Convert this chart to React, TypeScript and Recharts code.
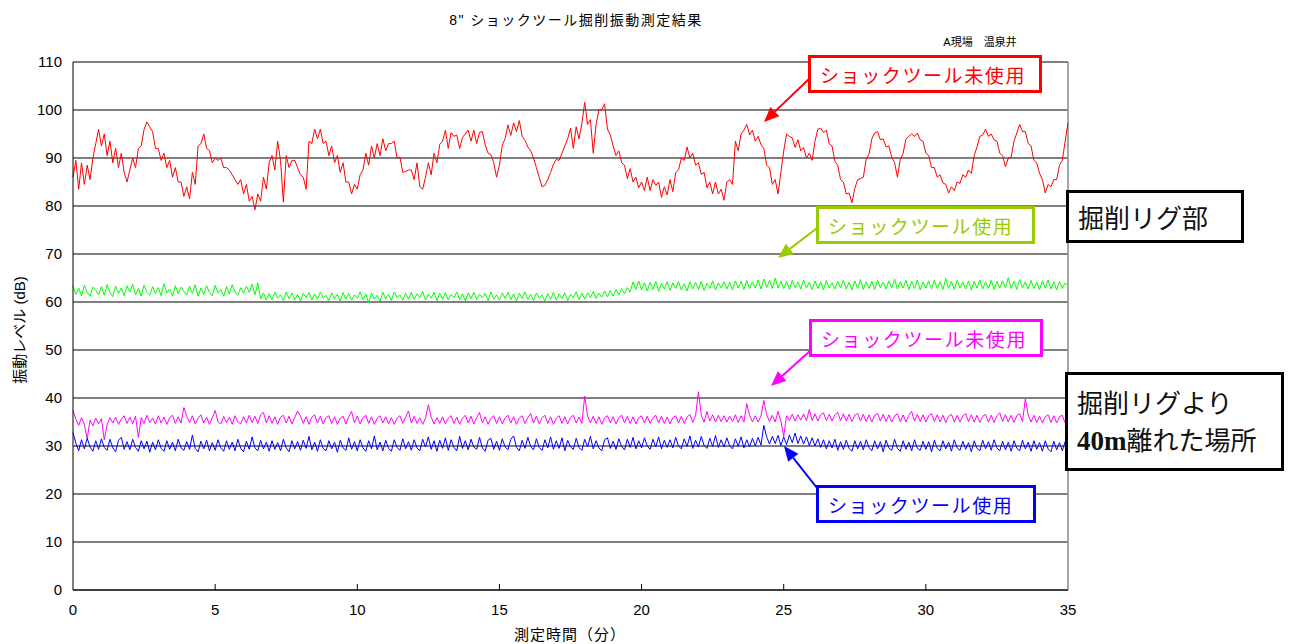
import React from "react";
import { LineChart, Line, XAxis, YAxis, CartesianGrid, ReferenceLine } from "recharts";

// time in minutes (0.1 min step, 0..35)
const times: number[] = Array.from({ length: 351 }, (_, i) => i / 10);

const xTicks = [0, 5, 10, 15, 20, 25, 30, 35];
const yTicks = [0, 10, 20, 30, 40, 50, 60, 70, 80, 90, 100, 110];

// 掘削リグ部 ショックツール未使用 (red)
const rigNoTool: number[] = [
  86, 89.5, 83.5, 89, 84.5, 88.5, 85.5, 90, 93, 96,
  92.5, 95, 90.5, 93.5, 89, 92, 88, 91, 87, 85,
  87.5, 90, 88, 92, 92.5, 96, 97.5, 96.5, 95.5, 92,
  92, 89.5, 91, 88, 89.5, 86, 88, 85, 85, 82,
  84, 81.5, 87, 84.5, 92.5, 93, 95, 92, 91.5, 89,
  90, 89.5, 90, 88, 88, 87.5, 86.5, 85.5, 84.5, 85.5,
  82.5, 84.5, 81, 82, 79.2, 82.5, 81, 86, 83.5, 89,
  90.5, 87.5, 93.5, 89.5, 80.8, 90.5, 88, 89.5, 89.5, 88,
  86.5, 86, 83.5, 93.5, 93, 96, 94, 96, 93, 93.5,
  90.5, 92.5, 89, 90.5, 87, 89, 85, 85, 82.5, 84.5,
  83.5, 86.5, 87.5, 91, 88.5, 92.5, 90, 93, 90.5, 94,
  91.5, 93, 93, 93.5, 90, 90.2, 87, 87.2, 87.5, 87.5,
  85.5, 89, 84, 83.5, 86, 89, 86.5, 91, 89, 92.8,
  93.5, 95.8, 92, 95.3, 94.5, 94.8, 92, 94.3, 95, 95.8,
  93.5, 95.8, 93, 95.3, 95.5, 92.7, 91, 90.7, 89, 86,
  88.5, 92.7, 94, 96.9, 94.7, 97.3, 95.5, 97.8, 94.5, 93.7,
  92.3, 91.5, 90, 88, 86, 84, 84.3, 85.5, 87, 88.7,
  89.7, 89.5, 91, 92.5, 94, 96.2, 92, 96.5, 94, 97.2,
  101.6, 97, 98, 91, 97, 100, 100, 101.3, 96, 94.8,
  92.5, 90.5, 91.5, 89, 88.5, 85.7, 87.8, 85, 86, 83.8,
  85, 83.2, 86, 83.2, 85.5, 84.3, 85, 81.8, 84, 82.3,
  85.5, 83, 87, 87.5, 90, 89.5, 92.3, 90, 91, 88.5,
  89, 86.6, 87, 83.8, 85, 82.5, 85, 82.5, 83.5, 81.2,
  85, 85.5, 84.5, 93.5, 91.5, 95, 95.8, 97, 94.8, 95.8,
  93.5, 94.5, 92.8, 92, 88.5, 88, 84.5, 85.5, 82.5, 87,
  91.5, 95, 94.5, 94.2, 92.2, 93.8, 91.5, 92.2, 90, 91,
  89.5, 93.5, 96, 96.2, 95.3, 95.8, 93, 92.5, 89.3, 88.5,
  85.5, 85, 82.5, 82.7, 80.7, 83.7, 85.5, 85.7, 86, 89.7,
  90.8, 94, 95.2, 95.5, 93.8, 94, 92.3, 92.5, 90.2, 89,
  86, 89.7, 91, 94, 94.5, 95, 94.5, 95.2, 93.8, 93.5,
  91, 90.5, 88, 88, 86, 86.5, 84.8, 84.5, 82.7, 84,
  83.2, 85, 84.7, 86.5, 86, 87.5, 86.8, 90.5, 92.3, 94.5,
  94.8, 96, 94.5, 95, 93.8, 93.5, 91, 90.5, 88.2, 90,
  90.2, 93.5, 95.2, 97, 95.5, 95.5, 93, 92.5, 89.5, 89,
  86.8, 85.5, 82.7, 84.5, 84, 85.5, 85.5, 88.5, 89.5, 93.5,
  97.4,
];

// 掘削リグ部 ショックツール使用 (green)
const rigWithTool: number[] = [
  63.4, 61.6, 62.9, 61.3, 63.5, 62.0, 61.2, 63.1, 62.4, 61.5,
  63.2, 61.4, 63.6, 62.0, 61.1, 63.3, 61.8, 62.9, 61.3, 63.4,
  62.1, 63.7, 61.5, 62.8, 61.2, 63.5, 62.0, 61.4, 63.2, 61.8,
  63.0, 61.3, 63.8, 61.9, 62.7, 61.2, 63.4, 61.7, 63.1, 62.2,
  61.4, 63.3, 61.8, 63.6, 61.2, 62.9, 61.6, 63.4, 62.0, 61.3,
  63.5, 61.9, 62.6, 61.2, 63.2, 61.7, 63.6, 62.1, 61.4, 63.0,
  61.8, 63.3, 62.0, 63.7, 61.5, 63.9, 60.6, 61.9, 60.4, 61.8,
  60.5, 62.0, 60.8, 61.5, 60.3, 62.1, 60.7, 61.9, 60.5, 61.6,
  60.2, 61.8, 60.9, 62.0, 60.4, 61.7, 60.6, 62.1, 60.8, 61.4,
  60.3, 61.9, 60.7, 61.6, 60.1, 62.0, 60.6, 61.8, 60.4, 61.5,
  60.8, 62.1, 60.5, 61.7, 59.8, 61.9, 60.6, 61.4, 60.2, 62.0,
  60.7, 61.6, 60.3, 62.1, 60.9, 61.5, 60.4, 61.8, 60.6, 62.0,
  60.5, 61.7, 60.9, 62.2, 60.4, 61.6, 60.8, 62.0, 60.3, 61.8,
  60.6, 61.9, 60.4, 61.6, 60.9, 62.1, 60.5, 61.7, 60.2, 61.9,
  60.7, 62.0, 60.5, 61.6, 60.9, 61.8, 60.3, 62.1, 60.6, 61.5,
  60.4, 61.9, 60.8, 62.0, 60.5, 61.7, 60.2, 61.8, 60.7, 62.1,
  60.5, 61.6, 60.3, 61.9, 60.8, 61.5, 60.1, 61.8, 60.6, 62.0,
  60.4, 61.7, 60.7, 61.9, 60.3, 61.6, 60.9, 62.1, 60.5, 61.8,
  60.6, 61.9, 60.9, 62.2, 60.7, 61.8, 61.0, 62.3, 61.1, 62.4,
  61.2, 62.6, 61.5, 62.8, 61.7, 63.0, 62.1, 64.2, 62.6, 64.4,
  62.5, 64.0, 62.3, 64.1, 62.6, 64.3, 62.2, 63.9, 62.7, 64.2,
  62.4, 64.0, 62.8, 64.3, 62.5, 63.8, 62.3, 64.2, 62.7, 64.1,
  62.6, 64.3, 62.4, 63.9, 62.8, 64.4, 62.5, 64.0, 62.9, 64.2,
  62.7, 64.1, 62.5, 64.4, 62.9, 64.3, 62.6, 64.5, 62.8, 64.2,
  62.9, 64.6, 62.7, 64.8, 63.0, 64.5, 62.8, 65.0, 62.9, 64.4,
  62.8, 64.3, 62.6, 64.5, 63.0, 64.2, 62.7, 64.6, 62.9, 64.1,
  62.6, 64.4, 62.8, 64.2, 62.5, 64.5, 62.9, 64.0, 62.7, 64.3,
  62.9, 64.6, 62.7, 64.1, 62.5, 64.4, 62.8, 64.7, 62.6, 64.2,
  62.8, 64.3, 62.6, 64.5, 63.0, 64.1, 62.7, 64.4, 62.9, 64.8,
  62.7, 64.2, 62.9, 64.5, 62.6, 64.3, 62.8, 64.6, 62.5, 64.1,
  62.9, 64.4, 62.7, 64.6, 62.8, 64.2, 62.6, 64.9, 62.8, 64.3,
  62.6, 64.5, 62.9, 64.1, 62.7, 64.4, 62.5, 64.3, 62.9, 64.6,
  62.7, 64.2, 62.8, 64.5, 62.6, 64.3, 62.9, 64.4, 63.0, 65.1,
  62.8, 64.3, 62.6, 64.7, 62.9, 64.2, 62.7, 64.5, 62.8, 64.1,
  62.6, 64.4, 62.9, 64.6, 62.7, 64.2, 62.5, 64.3, 62.8, 64.0,
  63.4,
];

// 40m離れた場所 ショックツール未使用 (magenta)
const farNoTool: number[] = [
  37.4, 35.6, 34.3, 35.9, 34.5, 31.5, 35.4, 34.2, 35.8, 34.6,
  35.7, 31.3, 34.4, 35.9, 34.8, 36.0, 34.5, 35.6, 36.3, 34.7,
  36.0, 34.6, 36.2, 31.8, 35.9, 34.7, 36.4, 34.9, 35.8, 34.6,
  36.3, 34.8, 36.0, 34.5, 35.9, 36.4, 34.7, 36.1, 34.8, 38.0,
  36.2, 34.9, 36.3, 34.6, 35.8, 36.5, 34.8, 36.0, 34.5, 35.9,
  37.4, 35.0, 34.6, 36.2, 34.9, 36.0, 34.5, 36.3, 35.0, 34.6,
  36.1, 34.8, 36.4, 34.9, 36.2, 34.7, 36.5, 37.0, 34.8, 36.3,
  34.7, 36.1, 34.5, 36.0, 36.4, 34.8, 36.2, 34.6, 35.9, 37.3,
  36.2, 34.7, 36.1, 34.5, 36.0, 36.5, 34.8, 36.2, 34.6, 35.9,
  36.3, 34.7, 36.1, 34.5, 35.8, 36.2, 34.6, 36.1, 37.2, 34.8,
  36.2, 34.6, 35.9, 36.4, 34.7, 36.1, 34.5, 35.8, 36.3, 34.8,
  36.1, 34.6, 35.9, 34.5, 35.8, 36.3, 34.7, 36.0, 37.3, 34.8,
  36.2, 34.7, 35.9, 34.5, 35.8, 38.6, 36.0, 34.6, 35.9, 34.7,
  36.1, 34.6, 35.8, 36.3, 34.7, 36.0, 34.5, 35.8, 36.4, 34.8,
  36.2, 34.6, 35.9, 37.0, 34.8, 36.1, 34.5, 35.8, 36.3, 34.7,
  36.1, 34.6, 35.9, 36.4, 34.8, 36.1, 34.5, 35.8, 36.3, 34.7,
  35.9, 36.8, 34.8, 36.2, 34.6, 35.9, 36.4, 34.7, 36.1, 34.5,
  35.8, 36.3, 34.7, 36.1, 34.6, 35.9, 36.4, 34.8, 36.0, 34.7,
  40.4, 36.3, 34.8, 36.2, 34.7, 36.1, 34.5, 35.9, 36.3, 34.8,
  36.1, 34.6, 35.9, 36.4, 34.8, 36.2, 34.7, 36.1, 34.6, 35.9,
  36.3, 34.8, 36.2, 34.7, 35.9, 36.4, 34.8, 36.2, 34.7, 36.0,
  34.6, 35.9, 36.3, 34.8, 36.2, 34.7, 36.0, 36.6, 34.9, 36.3,
  41.3, 36.4, 35.0, 37.2, 35.2, 36.5, 35.0, 36.4, 35.1, 36.3,
  35.0, 36.2, 35.1, 36.5, 34.9, 36.3, 35.0, 38.8, 36.4, 35.0,
  36.3, 35.0, 36.2, 39.5, 36.5, 35.1, 36.4, 35.0, 37.2, 35.2,
  32.0, 36.3, 35.3, 36.6, 35.2, 36.5, 35.4, 36.7, 35.3, 37.6,
  35.3, 36.7, 35.2, 36.5, 36.9, 35.3, 36.6, 35.2, 36.5, 37.0,
  35.3, 36.7, 35.2, 36.6, 35.1, 36.4, 36.8, 35.2, 36.6, 35.1,
  36.5, 35.0, 36.4, 36.8, 35.2, 36.6, 35.1, 36.5, 35.0, 36.3,
  36.7, 35.1, 36.5, 35.0, 36.4, 37.2, 35.2, 36.6, 35.1, 36.5,
  35.0, 36.3, 36.7, 35.1, 36.5, 35.0, 36.4, 34.9, 36.2, 36.6,
  35.0, 36.4, 35.0, 36.3, 36.7, 35.1, 36.5, 35.0, 36.4, 34.9,
  36.2, 36.6, 35.0, 36.4, 34.9, 36.3, 36.9, 35.1, 36.5, 35.0,
  36.4, 34.9, 36.3, 36.7, 35.1, 39.8, 36.5, 35.0, 36.4, 34.9,
  36.2, 34.8, 36.1, 36.5, 34.9, 36.3, 34.8, 36.1, 36.4, 34.8,
  37.6,
];

// 40m離れた場所 ショックツール使用 (blue)
const farWithTool: number[] = [
  32.8, 30.6, 29.0, 31.3, 29.4, 31.6, 29.8, 28.9, 31.1, 29.3,
  31.5, 29.7, 29.1, 31.4, 29.6, 28.8, 31.2, 31.8, 29.3, 30.9,
  29.2, 31.4, 29.7, 28.9, 31.1, 29.4, 31.0, 28.7, 30.8, 29.2,
  31.3, 29.5, 28.9, 31.1, 29.3, 30.8, 29.0, 31.4, 29.6, 29.1,
  30.9, 29.3, 32.3, 29.5, 28.8, 31.0, 29.4, 31.2, 29.0, 30.7,
  29.1, 31.3, 29.6, 28.9, 31.1, 29.3, 30.8, 29.0, 31.4, 29.5,
  28.8, 31.0, 29.3, 31.9, 29.6, 29.0, 31.2, 29.4, 30.8, 28.9,
  31.1, 29.3, 30.7, 29.0, 31.4, 29.6, 28.8, 31.1, 29.4, 30.9,
  29.1, 31.2, 29.5, 32.0, 29.2, 30.8, 28.9, 31.3, 29.5, 29.0,
  31.1, 29.4, 30.8, 28.7, 31.2, 29.6, 29.1, 31.7, 29.3, 30.9,
  29.0, 31.3, 29.6, 28.9, 31.1, 29.4, 32.1, 29.2, 30.8, 29.0,
  31.2, 29.5, 28.9, 31.3, 29.7, 29.1, 31.5, 29.4, 30.9, 29.1,
  31.3, 29.6, 29.0, 31.4, 29.8, 31.9, 29.3, 31.1, 28.9, 31.2,
  29.5, 31.7, 29.1, 31.3, 29.7, 29.0, 32.0, 29.5, 31.1, 29.2,
  31.4, 29.8, 29.3, 31.8, 29.6, 28.9, 31.2, 31.6, 29.3, 31.0,
  29.1, 31.5, 29.8, 29.2, 31.4, 32.1, 29.7, 29.0, 31.2, 29.5,
  31.8, 29.9, 29.2, 31.5, 29.7, 29.1, 31.3, 29.6, 31.9, 29.3,
  31.1, 29.5, 31.7, 29.0, 31.2, 29.8, 29.3, 31.6, 29.7, 29.1,
  31.4, 29.8, 32.0, 29.4, 31.1, 29.6, 29.0, 31.3, 31.7, 29.5,
  31.0, 29.3, 31.5, 29.9, 29.2, 31.4, 29.7, 31.8, 29.4, 31.1,
  29.6, 31.7, 30.0, 29.3, 31.4, 29.8, 31.9, 29.4, 31.2, 29.7,
  31.3, 29.6, 31.8, 30.0, 29.4, 31.5, 29.9, 32.1, 29.5, 31.2,
  29.8, 32.0, 30.1, 29.5, 31.6, 29.9, 32.2, 29.7, 31.3, 29.8,
  31.7, 30.0, 29.4, 31.5, 29.9, 31.9, 29.6, 31.3, 29.8, 31.6,
  30.0, 31.8, 30.2, 34.3, 31.9, 30.4, 32.0, 30.5, 32.2, 30.1,
  31.9, 30.3, 32.3, 30.7, 32.7, 30.5, 32.1, 30.4, 31.9, 30.1,
  31.7, 30.0, 31.5, 29.7, 31.3, 29.4, 31.1, 29.6, 31.4, 29.1,
  30.9, 29.3, 31.2, 29.5, 28.9, 31.1, 29.4, 31.0, 29.2, 31.3,
  29.7, 29.0, 31.1, 29.4, 30.9, 28.8, 31.2, 29.6, 29.1, 31.4,
  29.5, 28.9, 31.1, 29.3, 30.8, 29.0, 31.3, 29.5, 29.1, 31.0,
  29.3, 30.9, 28.8, 31.2, 29.5, 29.0, 31.1, 29.4, 30.8, 28.9,
  31.3, 29.6, 29.1, 31.0, 29.3, 30.7, 28.8, 31.1, 29.5, 29.0,
  31.2, 29.4, 30.9, 29.1, 31.3, 29.6, 29.0, 31.0, 29.2, 30.8,
  28.9, 31.1, 29.5, 29.0, 31.2, 29.4, 30.8, 28.9, 31.1, 29.3,
  30.7, 28.9, 31.1, 29.4, 28.8, 31.0, 29.2, 30.7, 29.0, 30.9,
  30.0,
];

const rows = times.map((t, i) => ({
  t,
  red: rigNoTool[i],
  green: rigWithTool[i],
  magenta: farNoTool[i],
  blue: farWithTool[i],
}));

const JP = '"Liberation Sans", Arial, "Noto Sans CJK JP", sans-serif';
const JPG = '"Noto Sans CJK JP", "Noto Sans", sans-serif';

const XTick = (props: any) => {
  const { x, y, payload } = props;
  const v = payload.value;
  return (
    <g>
      {v > 0 && v < 35 && <line x1={x} x2={x} y1={y} y2={y - 6} stroke="#000" strokeWidth={1} />}
      <text x={x} y={y + 25} textAnchor="middle" fontSize={15} fill="#000" fontFamily={JP}>
        {v}
      </text>
    </g>
  );
};

function Arrow({ x1, y1, x2, y2, color }: { x1: number; y1: number; x2: number; y2: number; color: string }) {
  const dx = x2 - x1;
  const dy = y2 - y1;
  const len = Math.sqrt(dx * dx + dy * dy);
  const ux = dx / len;
  const uy = dy / len;
  const hl = 15;
  const hw = 6.5;
  const bx = x2 - ux * hl;
  const by = y2 - uy * hl;
  const px = -uy;
  const py = ux;
  return (
    <g>
      <line x1={x1} y1={y1} x2={bx} y2={by} stroke={color} strokeWidth={2} />
      <polygon
        points={`${x2},${y2} ${bx + px * hw},${by + py * hw} ${bx - px * hw},${by - py * hw}`}
        fill={color}
      />
    </g>
  );
}

const boxBase: React.CSSProperties = {
  position: "absolute",
  boxSizing: "border-box",
  background: "#fff",
  fontFamily: JPG,
  whiteSpace: "nowrap",
  display: "flex",
  alignItems: "center",
};

export default function App() {
  return (
    <div style={{ position: "absolute", left: 0, top: 0, width: 1290, height: 644, background: "#fff" }}>
      <LineChart width={1290} height={644} data={rows} margin={{ top: 62, right: 222, bottom: 24, left: 13 }}>
        <CartesianGrid vertical={false} stroke="#000" />
        <XAxis
          dataKey="t"
          type="number"
          domain={[0, 35]}
          ticks={xTicks}
          height={30}
          tickSize={0}
          tickMargin={0}
          tick={<XTick />}
          axisLine={{ stroke: "#000" }}
          interval={0}
        />
        <YAxis
          type="number"
          domain={[0, 110]}
          ticks={yTicks}
          width={60}
          tickSize={0}
          tickMargin={11}
          tickLine={false}
          axisLine={{ stroke: "#000" }}
          tick={{ fill: "#000", fontSize: 15, fontFamily: JP }}
          interval={0}
        />
        <ReferenceLine x={35} stroke="#888" strokeWidth={1.5} />
        <Line dataKey="red" stroke="#ff0000" strokeWidth={1} dot={false} isAnimationActive={false} />
        <Line dataKey="green" stroke="#00ff00" strokeWidth={1} dot={false} isAnimationActive={false} />
        <Line dataKey="magenta" stroke="#ff00ff" strokeWidth={1} dot={false} isAnimationActive={false} />
        <Line dataKey="blue" stroke="#0000ff" strokeWidth={1} dot={false} isAnimationActive={false} />
      </LineChart>

      <svg width={1290} height={644} style={{ position: "absolute", left: 0, top: 0, pointerEvents: "none" }}>
        <text x={576} y={25} textAnchor="middle" fontSize={14} letterSpacing={1.5} fontFamily={JP} fill="#000">
          8" ショックツール掘削振動測定結果
        </text>
        <text x={980} y={46} textAnchor="middle" fontSize={11} fontFamily={JP} fill="#000">
          A現場　温泉井
        </text>
        <text
          x={0}
          y={0}
          transform="translate(25,330) rotate(-90)"
          textAnchor="middle"
          fontSize={15}
          fontFamily={JP}
          fill="#000"
        >
          振動レベル (dB)
        </text>
        <text x={570} y={640} textAnchor="middle" fontSize={15} letterSpacing={1} fontFamily={JP} fill="#000">
          測定時間（分）
        </text>
        <Arrow x1={809} y1={79} x2={764} y2={122} color="#ff0000" />
        <Arrow x1={817} y1={228} x2={778} y2={258} color="#99cc00" />
        <Arrow x1={811} y1={350} x2={771} y2={386} color="#ff00ff" />
        <Arrow x1={817} y1={488} x2={784} y2={446} color="#0000ff" />
      </svg>

      <div style={{ ...boxBase, left: 808, top: 55, width: 234, height: 38, border: "3px solid #ff0000", color: "#ff0000", fontSize: 19, letterSpacing: 1.6, paddingLeft: 9 }}>
        ショックツール未使用
      </div>
      <div style={{ ...boxBase, left: 816, top: 206, width: 219, height: 38, border: "3px solid #99cc00", color: "#99cc00", fontSize: 19, letterSpacing: 1.6, paddingLeft: 9 }}>
        ショックツール使用
      </div>
      <div style={{ ...boxBase, left: 809, top: 319, width: 234, height: 38, border: "3px solid #ff00ff", color: "#ff00ff", fontSize: 19, letterSpacing: 1.6, paddingLeft: 9 }}>
        ショックツール未使用
      </div>
      <div style={{ ...boxBase, left: 816, top: 485, width: 220, height: 38, border: "3px solid #0000ff", color: "#0000ff", fontSize: 19, letterSpacing: 1.6, paddingLeft: 9 }}>
        ショックツール使用
      </div>
      <div style={{ ...boxBase, left: 1066, top: 190, width: 178, height: 53, border: "3px solid #000", color: "#111", fontSize: 26, paddingLeft: 9 }}>
        掘削リグ部
      </div>
      <div
        style={{
          ...boxBase,
          left: 1065,
          top: 372,
          width: 219,
          height: 99,
          border: "3px solid #000",
          color: "#111",
          fontSize: 26,
          paddingLeft: 9,
          flexDirection: "column",
          alignItems: "flex-start",
          justifyContent: "center",
          lineHeight: "37px",
        }}
      >
        <div>掘削リグより</div>
        <div>
          <span style={{ fontFamily: '"Liberation Serif", "DejaVu Serif", serif', fontWeight: "bold", fontSize: 27 }}>40m</span>
          離れた場所
        </div>
      </div>
    </div>
  );
}
